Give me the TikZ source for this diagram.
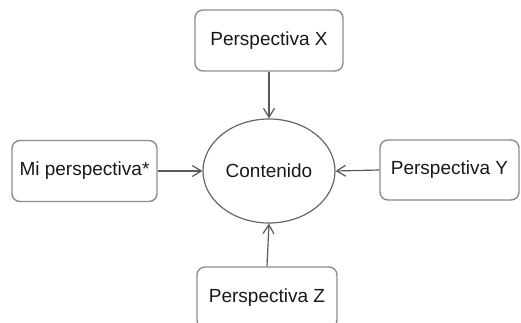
\documentclass[tikz,border=0pt]{standalone}
\usepackage{fontspec}
\setmainfont{Liberation Sans}
\usetikzlibrary{arrows.meta,shapes.geometric}
\begin{document}
\begin{tikzpicture}[x=1pt,y=-1pt,
  view/.style={draw=black!45, line width=1.4pt, rounded corners=8pt, fill=white,
    inner sep=0pt, font=\fontsize{19}{21}\selectfont, text=black!90},
  hub/.style={ellipse, draw=black!60, line width=1.2pt, fill=white,
    minimum width=132pt, minimum height=104pt, inner sep=0pt,
    font=\fontsize{19}{21}\selectfont, text=black!90},
  feed/.style={draw=black!65, line width=1.2pt,
    -{Straight Barb[length=9pt,width=11pt,line width=1.2pt]}}]
\useasboundingbox (0,0) rectangle (521,323);
\clip (0,0) rectangle (521,323);
\node[hub] (c) at (269,171) {Contenido};
\node[view, minimum width=148pt, minimum height=61pt] (x) at (269,40.5) {Perspectiva X};
\node[view, minimum width=145pt, minimum height=61pt] (m) at (84.5,171) {Mi perspectiva*};
\node[view, minimum width=139pt, minimum height=60pt] (y) at (449.5,170) {Perspectiva Y};
\node[view, minimum width=140pt, minimum height=61pt] (z) at (267,297.5) {Perspectiva Z};
\draw[feed] (x.south) -- (c.north);
\draw[feed] (m.east) -- (c.west);
\draw[feed] (y.west) -- (c.east);
\draw[feed] (z.north) -- (c.south);
\end{tikzpicture}
\end{document}
